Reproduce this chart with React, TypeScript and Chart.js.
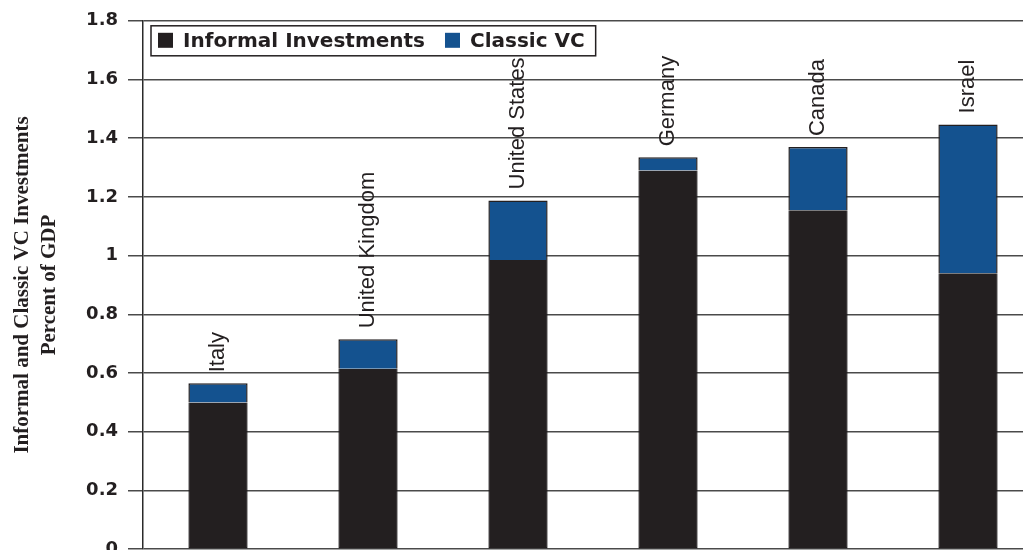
import React, { useEffect, useRef } from "react";
import { Chart, registerables } from "chart.js";

Chart.register(...registerables);

const categories = ["Italy", "United Kingdom", "United States", "Germany", "Canada", "Israel"];
const informalInvestments = [0.5, 0.615, 0.985, 1.29, 1.155, 0.94];
const classicVC = [0.065, 0.1, 0.203, 0.045, 0.215, 0.507];
const seriesLabels = ["Informal Investments", "Classic VC"];
const seriesColors = ["#231f20", "#14528f"];
const yTitle = ["Informal and Classic VC Investments", "Percent of GDP"];

const barLabelPlugin = {
  id: "barLabels",
  afterDatasetsDraw(chart: any) {
    const ctx = chart.ctx;
    const n = chart.data.datasets.length;
    const meta = chart.getDatasetMeta(n - 1);
    ctx.save();
    ctx.font = '22px "Liberation Sans"';
    ctx.fillStyle = "#231f20";
    ctx.textAlign = "left";
    ctx.textBaseline = "middle";
    meta.data.forEach((el: any, i: number) => {
      ctx.save();
      ctx.translate(el.x, el.y - 11);
      ctx.rotate(-Math.PI / 2);
      ctx.fillText(String(chart.data.labels[i]), 0, 0);
      ctx.restore();
    });
    ctx.restore();
  },
};

const legendPlugin = {
  id: "boxLegend",
  afterDraw(chart: any) {
    const ctx = chart.ctx;
    const { left, top } = chart.chartArea;
    const x0 = left + 8;
    const y0 = top + 5;
    const h = 30;
    ctx.save();
    ctx.font = 'bold 20px "DejaVu Sans"';
    const items = chart.data.datasets.map((d: any) => ({
      label: d.label,
      color: d.backgroundColor,
      w: ctx.measureText(d.label).width,
    }));
    const sq = 15;
    let width = 7;
    items.forEach((it: any, i: number) => {
      width += sq + 10 + it.w + (i < items.length - 1 ? 20 : 11);
    });
    ctx.fillStyle = "#ffffff";
    ctx.fillRect(x0, y0, width, h);
    ctx.lineWidth = 1.5;
    ctx.strokeStyle = "#231f20";
    ctx.strokeRect(x0, y0, width, h);
    let x = x0 + 7;
    const cy = y0 + h / 2;
    ctx.textBaseline = "middle";
    ctx.textAlign = "left";
    items.forEach((it: any) => {
      ctx.fillStyle = it.color;
      ctx.fillRect(x, cy - 8, sq, sq);
      x += sq + 10;
      ctx.fillStyle = "#231f20";
      ctx.fillText(it.label, x, cy + 1);
      x += it.w + 20;
    });
    ctx.restore();
  },
};

export default function App() {
  const canvasRef = useRef<HTMLCanvasElement | null>(null);

  useEffect(() => {
    if (!canvasRef.current) return;
    const chart = new Chart(canvasRef.current, {
      type: "bar",
      data: {
        labels: categories,
        datasets: [
          {
            label: seriesLabels[0],
            data: informalInvestments,
            backgroundColor: seriesColors[0],
            borderColor: "#231f20",
            borderWidth: { top: 0, left: 1.5, right: 1.5, bottom: 1.5 },
            borderSkipped: false,
          },
          {
            label: seriesLabels[1],
            data: classicVC,
            backgroundColor: seriesColors[1],
            borderColor: "#231f20",
            borderWidth: { top: 1.5, left: 1.5, right: 1.5, bottom: 0 },
            borderSkipped: false,
          },
        ],
      },
      options: {
        responsive: false,
        animation: false,
        devicePixelRatio: 1,
        layout: { padding: { left: 0, top: 17, right: 7, bottom: 20 } },
        plugins: {
          legend: { display: false },
          tooltip: { enabled: false },
        },
        datasets: {
          bar: { categoryPercentage: 1, barPercentage: 0.395 },
        },
        scales: {
          x: {
            stacked: true,
            display: false,
          },
          y: {
            stacked: true,
            min: 0,
            max: 1.8,
            ticks: {
              stepSize: 0.2,
              padding: 10,
              color: "#231f20",
              font: { family: '"DejaVu Sans"', size: 18, weight: "bold" },
              callback: (v: any) => String(Number(Number(v).toFixed(1))),
            },
            grid: {
              color: "#4a4a4a",
              lineWidth: 1.5,
              tickLength: 15,
              drawTicks: true,
            },
            border: { color: "#2a2a2a", width: 1.5 },
            title: {
              display: true,
              text: yTitle,
              color: "#231f20",
              font: { family: '"Liberation Serif"', size: 21, weight: "bold", lineHeight: "27px" },
              padding: { top: 9.5, bottom: 0 },
            },
            afterFit: (scale: any) => {
              scale.width = 143;
            },
          },
        },
      },
      plugins: [barLabelPlugin, legendPlugin],
    });
    return () => chart.destroy();
  }, []);

  return (
    <div
      style={{
        position: "fixed",
        left: 0,
        top: 0,
        width: 1023,
        height: 550,
        overflow: "hidden",
        background: "#ffffff",
      }}
    >
      <canvas ref={canvasRef} width={1050} height={570} style={{ display: "block" }} />
    </div>
  );
}
